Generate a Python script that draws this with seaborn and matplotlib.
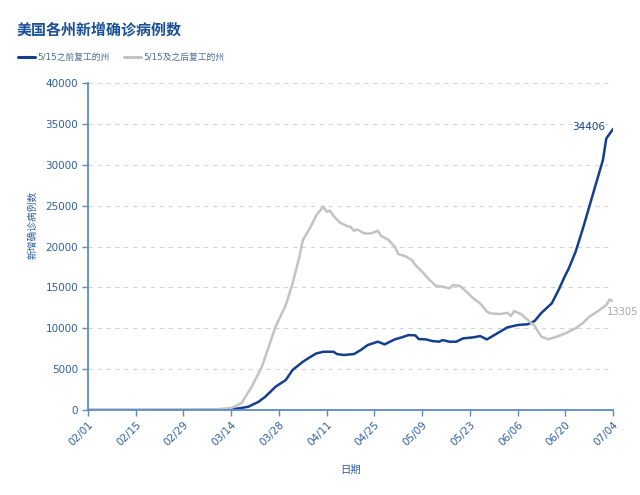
import matplotlib
matplotlib.use('Agg')
import matplotlib.pyplot as plt
import seaborn as sns
import pandas as pd

# ---------------- data ----------------
series_names = ['5/15之前复工的州', '5/15及之后复工的州']

early_dates = ['02-01', '02-15', '03-01', '03-10', '03-14', '03-17', '03-19', '03-22', '03-24', '03-27',
               '03-30', '04-01', '04-04', '04-06', '04-08', '04-10', '04-13', '04-14', '04-16', '04-19',
               '04-21', '04-23', '04-26', '04-28', '04-29', '05-01', '05-03', '05-05', '05-07', '05-08',
               '05-10', '05-12', '05-14', '05-15', '05-17', '05-19', '05-21', '05-24', '05-26', '05-28',
               '05-31', '06-03', '06-06', '06-09', '06-11', '06-13', '06-16', '06-18', '06-20', '06-21',
               '06-23', '06-25', '06-27', '06-29', '07-01', '07-02', '07-04']
early_values = [0, 0, 0, 20, 80, 250, 400, 1000, 1630, 2850,
                3670, 4900, 5900, 6440, 6930, 7130, 7130, 6850, 6730, 6850,
                7340, 7950, 8360, 8030, 8240, 8650, 8890, 9170, 9130, 8680,
                8650, 8440, 8360, 8560, 8360, 8360, 8770, 8890, 9050, 8640,
                9380, 10110, 10400, 10500, 10900, 11900, 13050, 14680, 16510, 17330,
                19370, 22020, 24870, 27730, 30580, 33230, 34406]

late_dates = ['02-01', '02-15', '02-29', '03-07', '03-10', '03-14', '03-17', '03-20', '03-23', '03-25',
              '03-27', '03-30', '04-01', '04-03', '04-04', '04-06', '04-08', '04-10', '04-11', '04-12',
              '04-13', '04-15', '04-17', '04-18', '04-19', '04-20', '04-22', '04-24', '04-26', '04-27',
              '04-29', '05-01', '05-02', '05-04', '05-06', '05-07', '05-09', '05-11', '05-13', '05-15',
              '05-17', '05-18', '05-20', '05-22', '05-24', '05-26', '05-28', '05-29', '06-01', '06-03',
              '06-04', '06-05', '06-07', '06-09', '06-11', '06-12', '06-13', '06-15', '06-18', '06-20',
              '06-23', '06-25', '06-27', '06-30', '07-02', '07-03', '07-04']
late_values = [0, 0, 20, 50, 100, 250, 820, 2850, 5300, 7740,
               10200, 12840, 15500, 18750, 20800, 22200, 23850, 24900, 24260, 24380,
               23730, 22910, 22510, 22420, 21930, 22100, 21610, 21610, 21930, 21280,
               20870, 19980, 19080, 18840, 18350, 17740, 16920, 15990, 15200, 15090,
               14890, 15290, 15200, 14480, 13660, 13050, 12030, 11830, 11740, 11900,
               11500, 12110, 11740, 11010, 10300, 9580, 8970, 8650, 9050, 9380,
               9990, 10600, 11410, 12230, 12840, 13540, 13305]

x_tick_labels = ['02/01', '02/15', '02/29', '03/14', '03/28', '04/11', '04/25',
                 '05/09', '05/23', '06/06', '06/20', '07/04']
y_ticks = [0, 5000, 10000, 15000, 20000, 25000, 30000, 35000, 40000]

title = '美国各州新增确诊病例数'
x_label = '日期'
y_label = '新增确诊病例数'

# ---------------- frame ----------------
df = pd.concat([
    pd.DataFrame({'date': pd.to_datetime(['2020-' + d for d in early_dates]),
                  'value': early_values, 'group': series_names[0]}),
    pd.DataFrame({'date': pd.to_datetime(['2020-' + d for d in late_dates]),
                  'value': late_values, 'group': series_names[1]}),
], ignore_index=True)

# ---------------- style ----------------
sns.set_theme(style='white')
plt.rcParams['font.family'] = ['DejaVu Sans', 'Noto Sans CJK SC']

BLUE = '#143f8c'
GRAY = '#c3c3c3'
AXIS = '#5b8cc4'
TXT = '#2f5f9f'

fig = plt.figure(figsize=(6.4, 4.95), dpi=100)
ax = fig.add_axes([0.1375, 0.1717, 0.8205, 0.6603])

sns.lineplot(data=df, x='date', y='value', hue='group', hue_order=series_names,
             palette={series_names[0]: BLUE, series_names[1]: GRAY},
             linewidth=1.8, ax=ax, legend=True)

ax.set_xlim(pd.Timestamp('2020-02-01'), pd.Timestamp('2020-07-04'))
ax.set_ylim(0, 40000)

xt = pd.to_datetime(['2020/' + s for s in x_tick_labels])
ax.set_xticks(xt)
ax.set_xticklabels(x_tick_labels, rotation=45, ha='right', rotation_mode='anchor',
                   fontsize=7.5, color=TXT)
ax.set_yticks(y_ticks)
ax.set_yticklabels([str(v) for v in y_ticks], fontsize=7.5, color=TXT)

for s in ['top', 'right']:
    ax.spines[s].set_visible(False)
for s in ['left', 'bottom']:
    ax.spines[s].set_color(AXIS)
    ax.spines[s].set_linewidth(1.3)
ax.tick_params(axis='both', which='major', color=AXIS, length=4, width=1, direction='out',
               left=True, bottom=True, pad=3)

ax.yaxis.grid(True, color='#d4d4d4', linestyle=(0, (4, 4)), linewidth=0.8)
ax.xaxis.grid(False)
ax.set_axisbelow(True)

ax.set_xlabel(x_label, fontsize=7.5, color=TXT, labelpad=12)
ax.set_ylabel(y_label, fontsize=7, color=TXT)
ax.yaxis.set_label_coords(-0.097, 0.566)

# end labels
end_date = pd.Timestamp('2020-07-04')
ax.annotate(str(early_values[-1]), xy=(end_date, early_values[-1]), xytext=(-6, 1),
            textcoords='offset points', ha='right', va='center', fontsize=7.5, color=BLUE)
ax.annotate(str(late_values[-1]), xy=(end_date, late_values[-1]), xytext=(-4.5, -8),
            textcoords='offset points', ha='left', va='center', fontsize=7.2, color='#a8a8a8',
            annotation_clip=False)

# legend
handles, labels = ax.get_legend_handles_labels()
ax.get_legend().remove()
leg = fig.legend(handles, labels, loc='center left', bbox_to_anchor=(0.028, 0.884),
                 ncol=2, frameon=False, fontsize=6.3, handlelength=2.0, handletextpad=0.25,
                 columnspacing=1.6, borderpad=0, borderaxespad=0)
for t in leg.get_texts():
    t.set_color('#4a6a9a')
for h in leg.get_lines():
    h.set_linewidth(2.2)

fig.text(0.026, 0.94, title, fontsize=10.8, fontweight='bold', color='#1a5196',
         va='center', ha='left')

fig.savefig('out.png', dpi=100)
